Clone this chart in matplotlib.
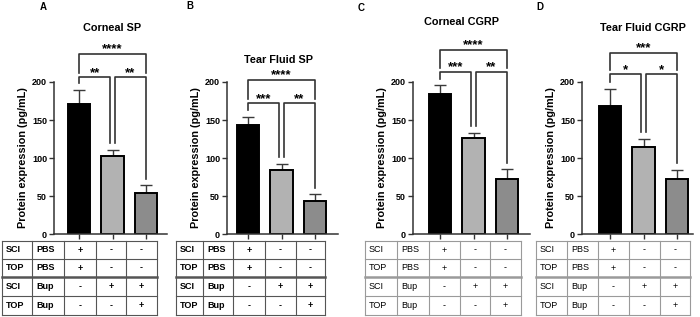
import numpy as np
import matplotlib
matplotlib.use('Agg')
import matplotlib.pyplot as plt

plt.rcParams['font.family'] = ['Liberation Sans', 'DejaVu Sans']

# chart data
titles = ['Corneal SP', 'Tear Fluid SP', 'Corneal CGRP', 'Tear Fluid CGRP']
letters = ['A', 'B', 'C', 'D']
means_a = [171, 102, 54]
errs_a = [19, 8.5, 10]
means_b = [143, 84, 44]
errs_b = [11, 8.5, 8]
means_c = [184, 126, 73]
errs_c = [11.5, 6.5, 12]
means_d = [168, 114, 73]
errs_d = [22.5, 11, 11.5]
# significance: (1 vs 2, 2 vs 3, 1 vs 3)
sig_a = ['**', '**', '****']
sig_b = ['***', '**', '****']
sig_c = ['***', '**', '****']
sig_d = ['*', '*', '***']
yticks = [0, 50, 100, 150, 200]
ylabel = 'Protein expression (pg/mL)'

# treatment table
row_site = ['SCI', 'TOP', 'SCI', 'TOP']
row_drug = ['PBS', 'PBS', 'Bup', 'Bup']
signs = [['+', '-', '-'],
         ['+', '-', '-'],
         ['-', '+', '+'],
         ['-', '-', '+']]

means = [means_a, means_b, means_c, means_d]
errs = [errs_a, errs_b, errs_c, errs_d]
sigs = [sig_a, sig_b, sig_c, sig_d]

bar_colors = ['#000000', '#b2b2b2', '#8c8c8c']

# layout (pixels)
W, H = 700, 317
ax_px = [(54, 167), (227, 338), (413, 530), (582, 693)]
centers_px = [(79, 146), (248, 315), (440, 507), (610, 677)]
y0_px, y200_px = 234, 82
bracket_y = [(206, 237), (172, 203), (213, 242), (210, 238)]
title_pos = [(112, 28), (278, 60), (462, 22), (643, 28)]
letter_pos = [(43, 7), (190, 6), (361, 8), (540, 7)]
col_edges = [[2, 32, 64, 96, 126, 157],
             [176, 203, 233, 265, 296, 325],
             [365, 397, 429, 460, 490, 521],
             [536, 567, 598, 629, 660, 690]]
row_edges = [241, 259, 277, 296, 315]

fig = plt.figure(figsize=(7, 3.17), dpi=100)
over = fig.add_axes([0, 0, 1, 1])
over.set_xlim(0, W)
over.set_ylim(H, 0)
over.axis('off')

for i in range(4):
    l, r = ax_px[i]
    c0, c2 = centers_px[i]
    sp = (c2 - c0) / 2
    ax = fig.add_axes([l / W, (H - y0_px) / H, (r - l) / W, (y0_px - y200_px) / H])
    ax.set_xlim(-(c0 - l) / sp, 2 + (r - c2) / sp)
    ax.set_ylim(0, 200)
    x = np.arange(3)
    ax.bar(x, means[i], width=0.66, color=bar_colors, edgecolor='black', linewidth=1.4, zorder=2)
    ax.errorbar(x, means[i], yerr=[np.zeros(3), errs[i]], fmt='none', ecolor='#3a3a3a',
                elinewidth=1.0, capsize=4, capthick=1.0, zorder=1)
    ax.set_xticks(x)
    ax.set_xticklabels([])
    ax.set_yticks(yticks)
    ax.set_yticklabels([str(t) for t in yticks], fontsize=6.5, fontweight='bold')
    ax.tick_params(length=3.5, width=1.0, color='#333333', pad=1.5)
    for s in ['top', 'right']:
        ax.spines[s].set_visible(False)
    for s in ['left', 'bottom']:
        ax.spines[s].set_linewidth(1.1)
        ax.spines[s].set_color('#333333')
    ax.set_ylabel(ylabel, fontsize=7.8, fontweight='bold', labelpad=3)

    # significance brackets
    tops = np.array(means[i]) + np.array(errs[i])
    low, high = bracket_y[i]
    kw = dict(color='#333333', lw=1.2, clip_on=False)
    d = 0.06
    ax.plot([0, 0, 1 - d, 1 - d], [tops[0] + 9, low, low, tops[1] + 9], **kw)
    ax.plot([1 + d, 1 + d, 2, 2], [tops[1] + 9, low, low, tops[2] + 9], **kw)
    ax.plot([0, 0, 2, 2], [low + 6, high, high, low + 6], **kw)
    tk = dict(ha='center', va='bottom', fontsize=9.5, fontweight='bold', clip_on=False)
    ax.text(0.5 - d / 2, low - 2, sigs[i][0], **tk)
    ax.text(1.5 + d / 2, low - 2, sigs[i][1], **tk)
    ax.text(1, high - 2, sigs[i][2], **tk)

    # title and panel letter
    over.text(title_pos[i][0], title_pos[i][1], titles[i], ha='center', va='center',
              fontsize=7.8, fontweight='bold')
    over.text(letter_pos[i][0], letter_pos[i][1], letters[i], ha='center', va='center',
              fontsize=7, fontweight='bold')

    # treatment table
    ce = col_edges[i]
    bold = i < 2
    lc = '#555555' if bold else '#9a9a9a'
    fw = 'bold' if bold else 'normal'
    for xe in ce:
        over.plot([xe, xe], [row_edges[0], row_edges[-1]], color=lc, lw=0.8)
    for k, ye in enumerate(row_edges):
        over.plot([ce[0], ce[-1]], [ye, ye], color=lc, lw=1.8 if k == 2 else 0.8)
    for rrow in range(4):
        yc = (row_edges[rrow] + row_edges[rrow + 1]) / 2
        over.text(ce[0] + 4, yc, row_site[rrow], ha='left', va='center', fontsize=6.5, fontweight=fw)
        over.text(ce[1] + 4, yc, row_drug[rrow], ha='left', va='center', fontsize=6.5, fontweight=fw)
        for cc in range(3):
            over.text((ce[2 + cc] + ce[3 + cc]) / 2, yc, signs[rrow][cc], ha='center', va='center',
                      fontsize=6.5, fontweight=fw)

fig.savefig('out.png', dpi=100)
